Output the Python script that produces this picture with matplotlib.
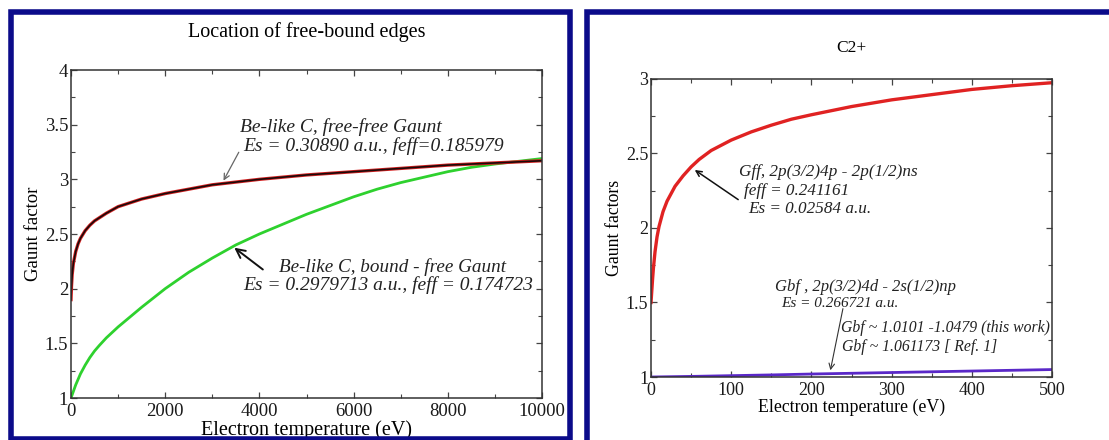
import numpy as np
import matplotlib
matplotlib.use("Agg")
import matplotlib.pyplot as plt
from matplotlib.patches import Rectangle
from matplotlib.ticker import MultipleLocator, FuncFormatter

plt.rcParams['font.family'] = ['Liberation Serif', 'DejaVu Serif']

# -----------------------------
# Left panel data
# -----------------------------
T_ff_left = [0, 10, 25, 50, 100, 150, 200, 300, 400, 500, 750, 1000, 1500,
             2000, 2500, 3000, 4000, 5000, 6000, 7000, 8000, 9000, 10000]
gff_left = [1.90, 2.02, 2.13, 2.23, 2.34, 2.41, 2.46, 2.53, 2.58, 2.62, 2.69,
            2.75, 2.82, 2.87, 2.91, 2.95, 3.00, 3.04, 3.07, 3.10, 3.13, 3.15,
            3.17]
T_bf_left = [0, 100, 200, 300, 400, 500, 600, 750, 1000, 1250, 1500, 2000,
             2500, 3000, 3500, 4000, 4500, 5000, 5500, 6000, 6500, 7000, 7500,
             8000, 8500, 9000, 9500, 10000]
gbf_left = [1.00, 1.12, 1.22, 1.30, 1.37, 1.43, 1.48, 1.55, 1.65, 1.74, 1.83,
            2.00, 2.15, 2.28, 2.40, 2.50, 2.59, 2.68, 2.76, 2.84, 2.91, 2.97,
            3.02, 3.07, 3.11, 3.14, 3.165, 3.19]

# -----------------------------
# Right panel data (C2+)
# -----------------------------
T_right = [0, 1, 2, 3, 5, 7.5, 10, 15, 20, 30, 40, 50, 60, 75, 100, 125, 150,
           175, 200, 250, 300, 350, 400, 450, 500]
gff_right = [1.50, 1.58, 1.66, 1.73, 1.84, 1.94, 2.01, 2.11, 2.18, 2.28, 2.35,
             2.41, 2.46, 2.52, 2.59, 2.645, 2.69, 2.73, 2.76, 2.815, 2.86,
             2.895, 2.93, 2.955, 2.975]
T_bf = [0, 50, 100, 150, 200, 250, 300, 350, 400, 450, 500]
gbf_right = [1.000, 1.004, 1.009, 1.014, 1.020, 1.025, 1.030, 1.035, 1.040,
             1.045, 1.050]

W, H = 1109, 440
fig = plt.figure(figsize=(W / 100, H / 100), dpi=100)

# navy frames around each panel
navy = '#0b0b8a'
fig.patches.append(Rectangle((11 / W, 1 - 439 / H), (570 - 11) / W, (439 - 12) / H,
                             transform=fig.transFigure, fill=False,
                             edgecolor=navy, lw=4.0))
fig.patches.append(Rectangle((587 / W, 1 - 460 / H), (1130 - 587) / W, (460 - 12.5) / H,
                             transform=fig.transFigure, fill=False,
                             edgecolor=navy, lw=4.0))

fmt = FuncFormatter(lambda v, p: '%g' % v)


def style_axes(ax, size):
    for s in ax.spines.values():
        s.set_color('#333333')
        s.set_linewidth(1.1)
    ax.tick_params(which='both', direction='in', top=True, right=True,
                   colors='#444444', labelcolor='#1a1a1a', labelsize=size)
    ax.tick_params(which='major', length=4.5, width=0.9)
    ax.tick_params(which='minor', length=2.6, width=0.8)
    ax.tick_params(axis='x', pad=3.5)
    ax.tick_params(axis='y', pad=2)
    ax.yaxis.set_major_formatter(fmt)
    ax.xaxis.set_major_formatter(fmt)


# -----------------------------
# Left panel
# -----------------------------
ax1 = fig.add_axes([71 / W, 1 - 398 / H, (542 - 71) / W, (398 - 70) / H])
ax1.plot(T_bf_left, gbf_left, color='#2ed12e', lw=2.0)
ax1.plot(T_ff_left, gff_left, color='#d42020', lw=2.4)
ax1.plot(T_ff_left, gff_left, color='#1a0a0a', lw=1.2)
ax1.set_xlim(0, 10000)
ax1.set_ylim(1, 4)
ax1.xaxis.set_major_locator(MultipleLocator(2000))
ax1.xaxis.set_minor_locator(MultipleLocator(1000))
ax1.yaxis.set_major_locator(MultipleLocator(0.5))
ax1.yaxis.set_minor_locator(MultipleLocator(0.25))
style_axes(ax1, 13.5)
ax1.set_xlabel('Electron temperature (eV)', fontsize=14.5, va='center')
ax1.xaxis.set_label_coords(0.5, -0.098)
ax1.set_ylabel('Gaunt factor', fontsize=13.5, va='center')
ax1.yaxis.set_label_coords(-0.079, 0.5)
ax1.text(0.5, 1.116, 'Location of free-bound edges', transform=ax1.transAxes,
         ha='center', va='center', fontsize=14.5)

ax1.text(3590, 3.48, 'Be-like C, free-free Gaunt', style='italic',
         fontsize=14, va='center', color='#222222')
ax1.text(3660, 3.30, 'Es = 0.30890 a.u., feff=0.185979', style='italic',
         fontsize=14, va='center', color='#222222')
ax1.annotate('', xy=(3210, 2.966), xytext=(3590, 3.27),
             arrowprops=dict(arrowstyle='->', color='#666666', lw=0.9))

ax1.text(4415, 2.20, 'Be-like C, bound - free Gaunt', style='italic',
         fontsize=13.8, va='center', color='#222222')
ax1.text(3660, 2.03, 'Es = 0.2979713 a.u., feff = 0.174723', style='italic',
         fontsize=14, va='center', color='#222222')
ax1.annotate('', xy=(3420, 2.39), xytext=(4120, 2.16),
             arrowprops=dict(arrowstyle='->', color='#111111', lw=1.4,
                             mutation_scale=16))

# -----------------------------
# Right panel
# -----------------------------
ax2 = fig.add_axes([651 / W, 1 - 377 / H, (1052 - 651) / W, (377 - 79) / H])
ax2.plot(T_right, gff_right, color='#e02222', lw=2.4)
ax2.plot(T_bf, gbf_right, color='#5a28c8', lw=2.0)
ax2.set_xlim(0, 500)
ax2.set_ylim(1, 3)
ax2.xaxis.set_major_locator(MultipleLocator(100))
ax2.xaxis.set_minor_locator(MultipleLocator(50))
ax2.yaxis.set_major_locator(MultipleLocator(0.5))
ax2.yaxis.set_minor_locator(MultipleLocator(0.25))
style_axes(ax2, 13)
ax2.set_xlabel('Electron temperature (eV)', fontsize=12.8, va='center')
ax2.xaxis.set_label_coords(0.5, -0.101)
ax2.set_ylabel('Gaunt factors', fontsize=12.8, va='center')
ax2.yaxis.set_label_coords(-0.090, 0.5)
ax2.text(0.5, 1.104, 'C2+', transform=ax2.transAxes,
         ha='center', va='center', fontsize=12.5)

ax2.text(109.5, 2.376, 'Gff, 2p(3/2)4p - 2p(1/2)ns', style='italic',
         fontsize=12.3, va='center', color='#222222')
ax2.text(115.8, 2.25, 'feff = 0.241161', style='italic',
         fontsize=12.3, va='center', color='#222222')
ax2.text(121, 2.13, 'Es = 0.02584 a.u.', style='italic',
         fontsize=12.3, va='center', color='#222222')
ax2.annotate('', xy=(51.7, 2.40), xytext=(111.6, 2.18),
             arrowprops=dict(arrowstyle='->', color='#111111', lw=1.1))

ax2.text(154.6, 1.604, 'Gbf , 2p(3/2)4d - 2s(1/2)np', style='italic',
         fontsize=12, va='center', color='#222222')
ax2.text(162, 1.49, 'Es = 0.266721 a.u.', style='italic',
         fontsize=11, va='center', color='#222222')
ax2.text(237, 1.33, 'Gbf ~ 1.0101 -1.0479 (this work)', style='italic',
         fontsize=11.3, va='center', color='#222222')
ax2.text(238, 1.20, 'Gbf ~ 1.061173 [ Ref. 1]', style='italic',
         fontsize=11.3, va='center', color='#222222')
ax2.annotate('', xy=(223, 1.027), xytext=(240, 1.477),
             arrowprops=dict(arrowstyle='->', color='#333333', lw=0.8))

fig.savefig('out.png', dpi=100)
